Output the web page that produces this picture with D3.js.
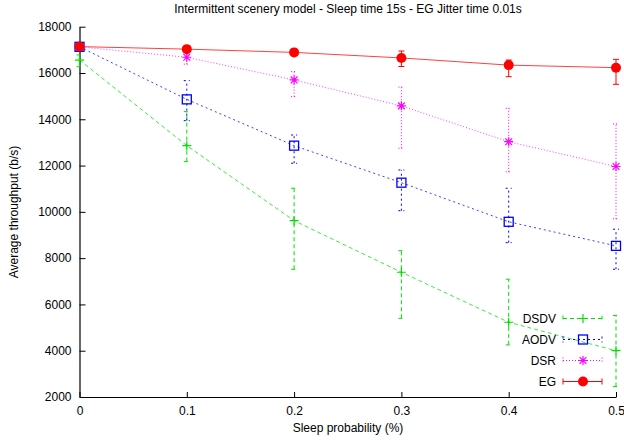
<!DOCTYPE html>
<html>
<head>
<meta charset="utf-8">
<script src="https://cdn.jsdelivr.net/npm/d3@7"></script>
<style>
  html, body { margin: 0; padding: 0; background: #fff; }
  svg { display: block; font-family: "Liberation Sans", Arial, sans-serif; }
</style>
</head>
<body>
<svg id="chart" width="624" height="440"></svg>
<script>
// ---- data ----
const xValues = [0, 0.1, 0.2, 0.3, 0.4, 0.5];
const xTicks = [0, 0.1, 0.2, 0.3, 0.4, 0.5];
const yTicks = [2000, 4000, 6000, 8000, 10000, 12000, 14000, 16000, 18000];

const seriesNames = ["DSDV", "AODV", "DSR", "EG"];

const dsdv     = [16560, 12860, 9620, 7390, 5230, 4000];
const dsdvLow  = [16270, 12170, 7520, 5400, 4250, 2450];
const dsdvHigh = [16780, 14330, 11020, 8320, 7090, 5520];

const aodv     = [17130, 14860, 12860, 11260, 9570, 8530];
const aodvLow  = [17060, 13940, 12100, 10050, 8670, 7520];
const aodvHigh = [17200, 15670, 13320, 11810, 11020, 9250];

const dsr      = [17130, 16680, 15700, 14580, 13030, 11960];
const dsrLow   = [17060, 16380, 14980, 12750, 11730, 9700];
const dsrHigh  = [17200, 16990, 16060, 15390, 14470, 13800];

const eg       = [17140, 17030, 16890, 16650, 16340, 16230];
const egLow    = [17080, 16960, 16760, 16280, 15840, 15510];
const egHigh   = [17200, 17100, 17020, 16950, 16560, 16590];

const titleText = "Intermittent scenery model - Sleep time 15s - EG Jitter time 0.01s";
const xLabelText = "Sleep probability (%)";
const yLabelText = "Average throughput (b/s)";

// ---- setup ----
const svg = d3.select("#chart");
const mLeft = 79.5, mRight = 616, mTop = 26.7, mBottom = 397;

const x = d3.scaleLinear().domain([0, 0.5]).range([mLeft, mRight]);
const y = d3.scaleLinear().domain([2000, 18000]).range([mBottom, mTop]);

const series = [
  { name: seriesNames[0], v: dsdv, lo: dsdvLow, hi: dsdvHigh, color: "#00e000", dash: "4,3", marker: "plus" },
  { name: seriesNames[1], v: aodv, lo: aodvLow, hi: aodvHigh, color: "#0000ff", dash: "2,3", marker: "square" },
  { name: seriesNames[2], v: dsr,  lo: dsrLow,  hi: dsrHigh,  color: "#ff00ff", dash: "1,2", marker: "star" },
  { name: seriesNames[3], v: eg,   lo: egLow,   hi: egHigh,   color: "#ff0000", dash: null,  marker: "circle" }
];

// ---- axes ----
const yAxis = d3.axisLeft(y).tickValues(yTicks).tickFormat(d3.format("d"))
  .tickSizeInner(-6).tickSizeOuter(0).tickPadding(8);
const xAxis = d3.axisBottom(x).tickValues(xTicks).tickFormat(d => d === 0 ? "0" : d3.format(".1f")(d))
  .tickSizeInner(-5).tickSizeOuter(0).tickPadding(9);

const gy = svg.append("g").attr("transform", `translate(${mLeft},0)`).call(yAxis);
const gx = svg.append("g").attr("transform", `translate(0,${mBottom})`).call(xAxis);
[gx, gy].forEach(g => {
  g.selectAll("text").attr("font-size", 12).attr("fill", "#000")
    .attr("font-family", "Liberation Sans, Arial, sans-serif");
  g.selectAll("line").attr("stroke", "#000");
  g.select(".domain").attr("stroke", "#000").attr("stroke-width", 1.2);
});

// ---- labels ----
svg.append("text").attr("x", 348).attr("y", 13).attr("text-anchor", "middle")
  .attr("font-size", 12).text(titleText);
svg.append("text").attr("x", 348).attr("y", 432).attr("text-anchor", "middle")
  .attr("font-size", 12).text(xLabelText);
svg.append("text").attr("transform", "translate(17.5,212) rotate(-90)").attr("text-anchor", "middle")
  .attr("font-size", 12).text(yLabelText);

// ---- markers ----
function drawMarker(g, type, cx, cy, color) {
  if (type === "plus") {
    g.append("path").attr("d", `M${cx-4.5},${cy}H${cx+4.5}M${cx},${cy-4.5}V${cy+4.5}`)
      .attr("stroke", color).attr("stroke-width", 1.2).attr("fill", "none");
  } else if (type === "square") {
    g.append("rect").attr("x", cx-4.5).attr("y", cy-4.5).attr("width", 9).attr("height", 9)
      .attr("stroke", color).attr("stroke-width", 1.3).attr("fill", "none");
  } else if (type === "star") {
    const r = 4.5, d = 3.4;
    g.append("path").attr("d",
      `M${cx-r},${cy}H${cx+r}M${cx},${cy-r}V${cy+r}M${cx-d},${cy-d}L${cx+d},${cy+d}M${cx-d},${cy+d}L${cx+d},${cy-d}`)
      .attr("stroke", color).attr("stroke-width", 1.2).attr("fill", "none");
  } else if (type === "circle") {
    g.append("circle").attr("cx", cx).attr("cy", cy).attr("r", 5).attr("fill", color);
  }
}

// ---- series ----
const line = d3.line().x(d => x(d[0])).y(d => y(d[1]));
series.forEach(s => {
  const g = svg.append("g");
  const pts = xValues.map((xv, i) => [xv, s.v[i]]);
  g.append("path").attr("d", line(pts)).attr("fill", "none")
    .attr("stroke", s.color).attr("stroke-width", 1).attr("stroke-opacity", 0.75)
    .attr("stroke-dasharray", s.dash);
  xValues.forEach((xv, i) => {
    const cx = x(xv), y1 = y(s.lo[i]), y2 = y(s.hi[i]);
    g.append("path").attr("d", `M${cx},${y1}V${y2}M${cx-3},${y1}H${cx+3}M${cx-3},${y2}H${cx+3}`)
      .attr("stroke", s.color).attr("stroke-width", 1).attr("fill", "none")
      .attr("stroke-dasharray", s.dash);
  });
  xValues.forEach((xv, i) => drawMarker(g, s.marker, x(xv), y(s.v[i]), s.color));
});

// ---- legend ----
series.forEach((s, i) => {
  const cy = 318.5 + i * 21;
  const g = svg.append("g");
  g.append("text").attr("x", 556).attr("y", cy).attr("dy", "0.35em").attr("text-anchor", "end")
    .attr("font-size", 12).text(s.name);
  g.append("path").attr("d", `M563,${cy}H602M563,${cy-3}V${cy+3}M602,${cy-3}V${cy+3}`)
    .attr("stroke", s.color).attr("stroke-width", 1).attr("fill", "none")
    .attr("stroke-dasharray", s.dash);
  drawMarker(g, s.marker, 583, cy, s.color);
});
</script>
</body>
</html>
